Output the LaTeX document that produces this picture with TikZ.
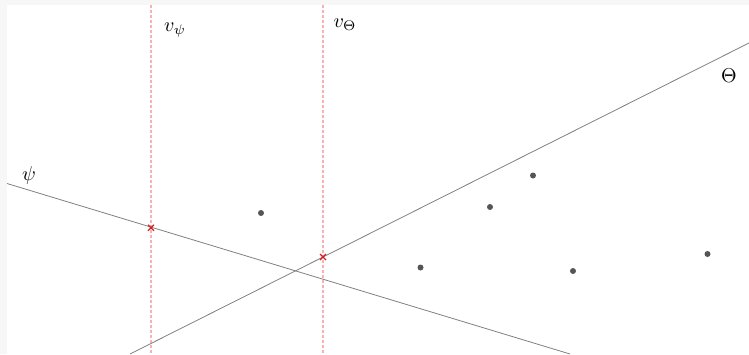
\documentclass[tikz,border=0pt]{standalone}
\usetikzlibrary{calc}
\definecolor{lineg}{HTML}{808080}
\definecolor{dotg}{HTML}{555555}
\definecolor{vred}{HTML}{F6B2B2}
\definecolor{xred}{HTML}{D42020}
\definecolor{edgeg}{HTML}{F7F7F7}
\begin{document}
\begin{tikzpicture}[x=0.5pt,y=-0.5pt,
  axisline/.style={draw=lineg,line width=0.4pt},
  vline/.style={color=vred,dash pattern=on 1.5pt off 1pt,line width=0.6pt},
  pt/.style={circle,fill=dotg,inner sep=0pt,minimum size=3pt},
  xmark/.style={draw=xred,line width=0.6pt},
  lab/.style={inner sep=0pt}]
\useasboundingbox (0,0) rectangle (749,354);
\fill[edgeg] (0,0) rectangle (749,5);
\fill[edgeg] (0,0) rectangle (7,354);
% coordinates
\coordinate (psiA) at (7,183.5);
\coordinate (psiB) at (570,354);
\coordinate (thA) at (130,354);
\coordinate (thB) at (749,43);
\coordinate (vpT) at (151,5);
\coordinate (vpB) at (151,354);
\coordinate (vtT) at (323,5);
\coordinate (vtB) at (323,354);
% lines
\draw[vline] (vpT) -- (vpB);
\draw[vline] (vtT) -- (vtB);
\draw[axisline] (psiA) -- (psiB);
\draw[axisline] (thA) -- (thB);
% crosses
\coordinate (cp) at (151,227.8);
\coordinate (ct) at (323,257);
\draw[xmark] ($(cp)+(-3,-3)$) -- ($(cp)+(3,3)$) ($(cp)+(-3,3)$) -- ($(cp)+(3,-3)$);
\draw[xmark] ($(ct)+(-3,-3)$) -- ($(ct)+(3,3)$) ($(ct)+(-3,3)$) -- ($(ct)+(3,-3)$);
% dots
\node[pt] (d1) at (261,213) {};
\node[pt] (d2) at (490,207) {};
\node[pt] (d3) at (533,175.5) {};
\node[pt] (d4) at (420.5,267.5) {};
\node[pt] (d5) at (573,271) {};
\node[pt] (d6) at (707.5,254) {};
% labels
\node[lab] (lvp) at (175,30) {$v_\psi$};
\node[lab] (lvt) at (345,25) {$v_\Theta$};
\node[lab] (lth) at (729,76) {$\Theta$};
\node[lab] (lps) at (29,175) {$\psi$};
\end{tikzpicture}
\end{document}
